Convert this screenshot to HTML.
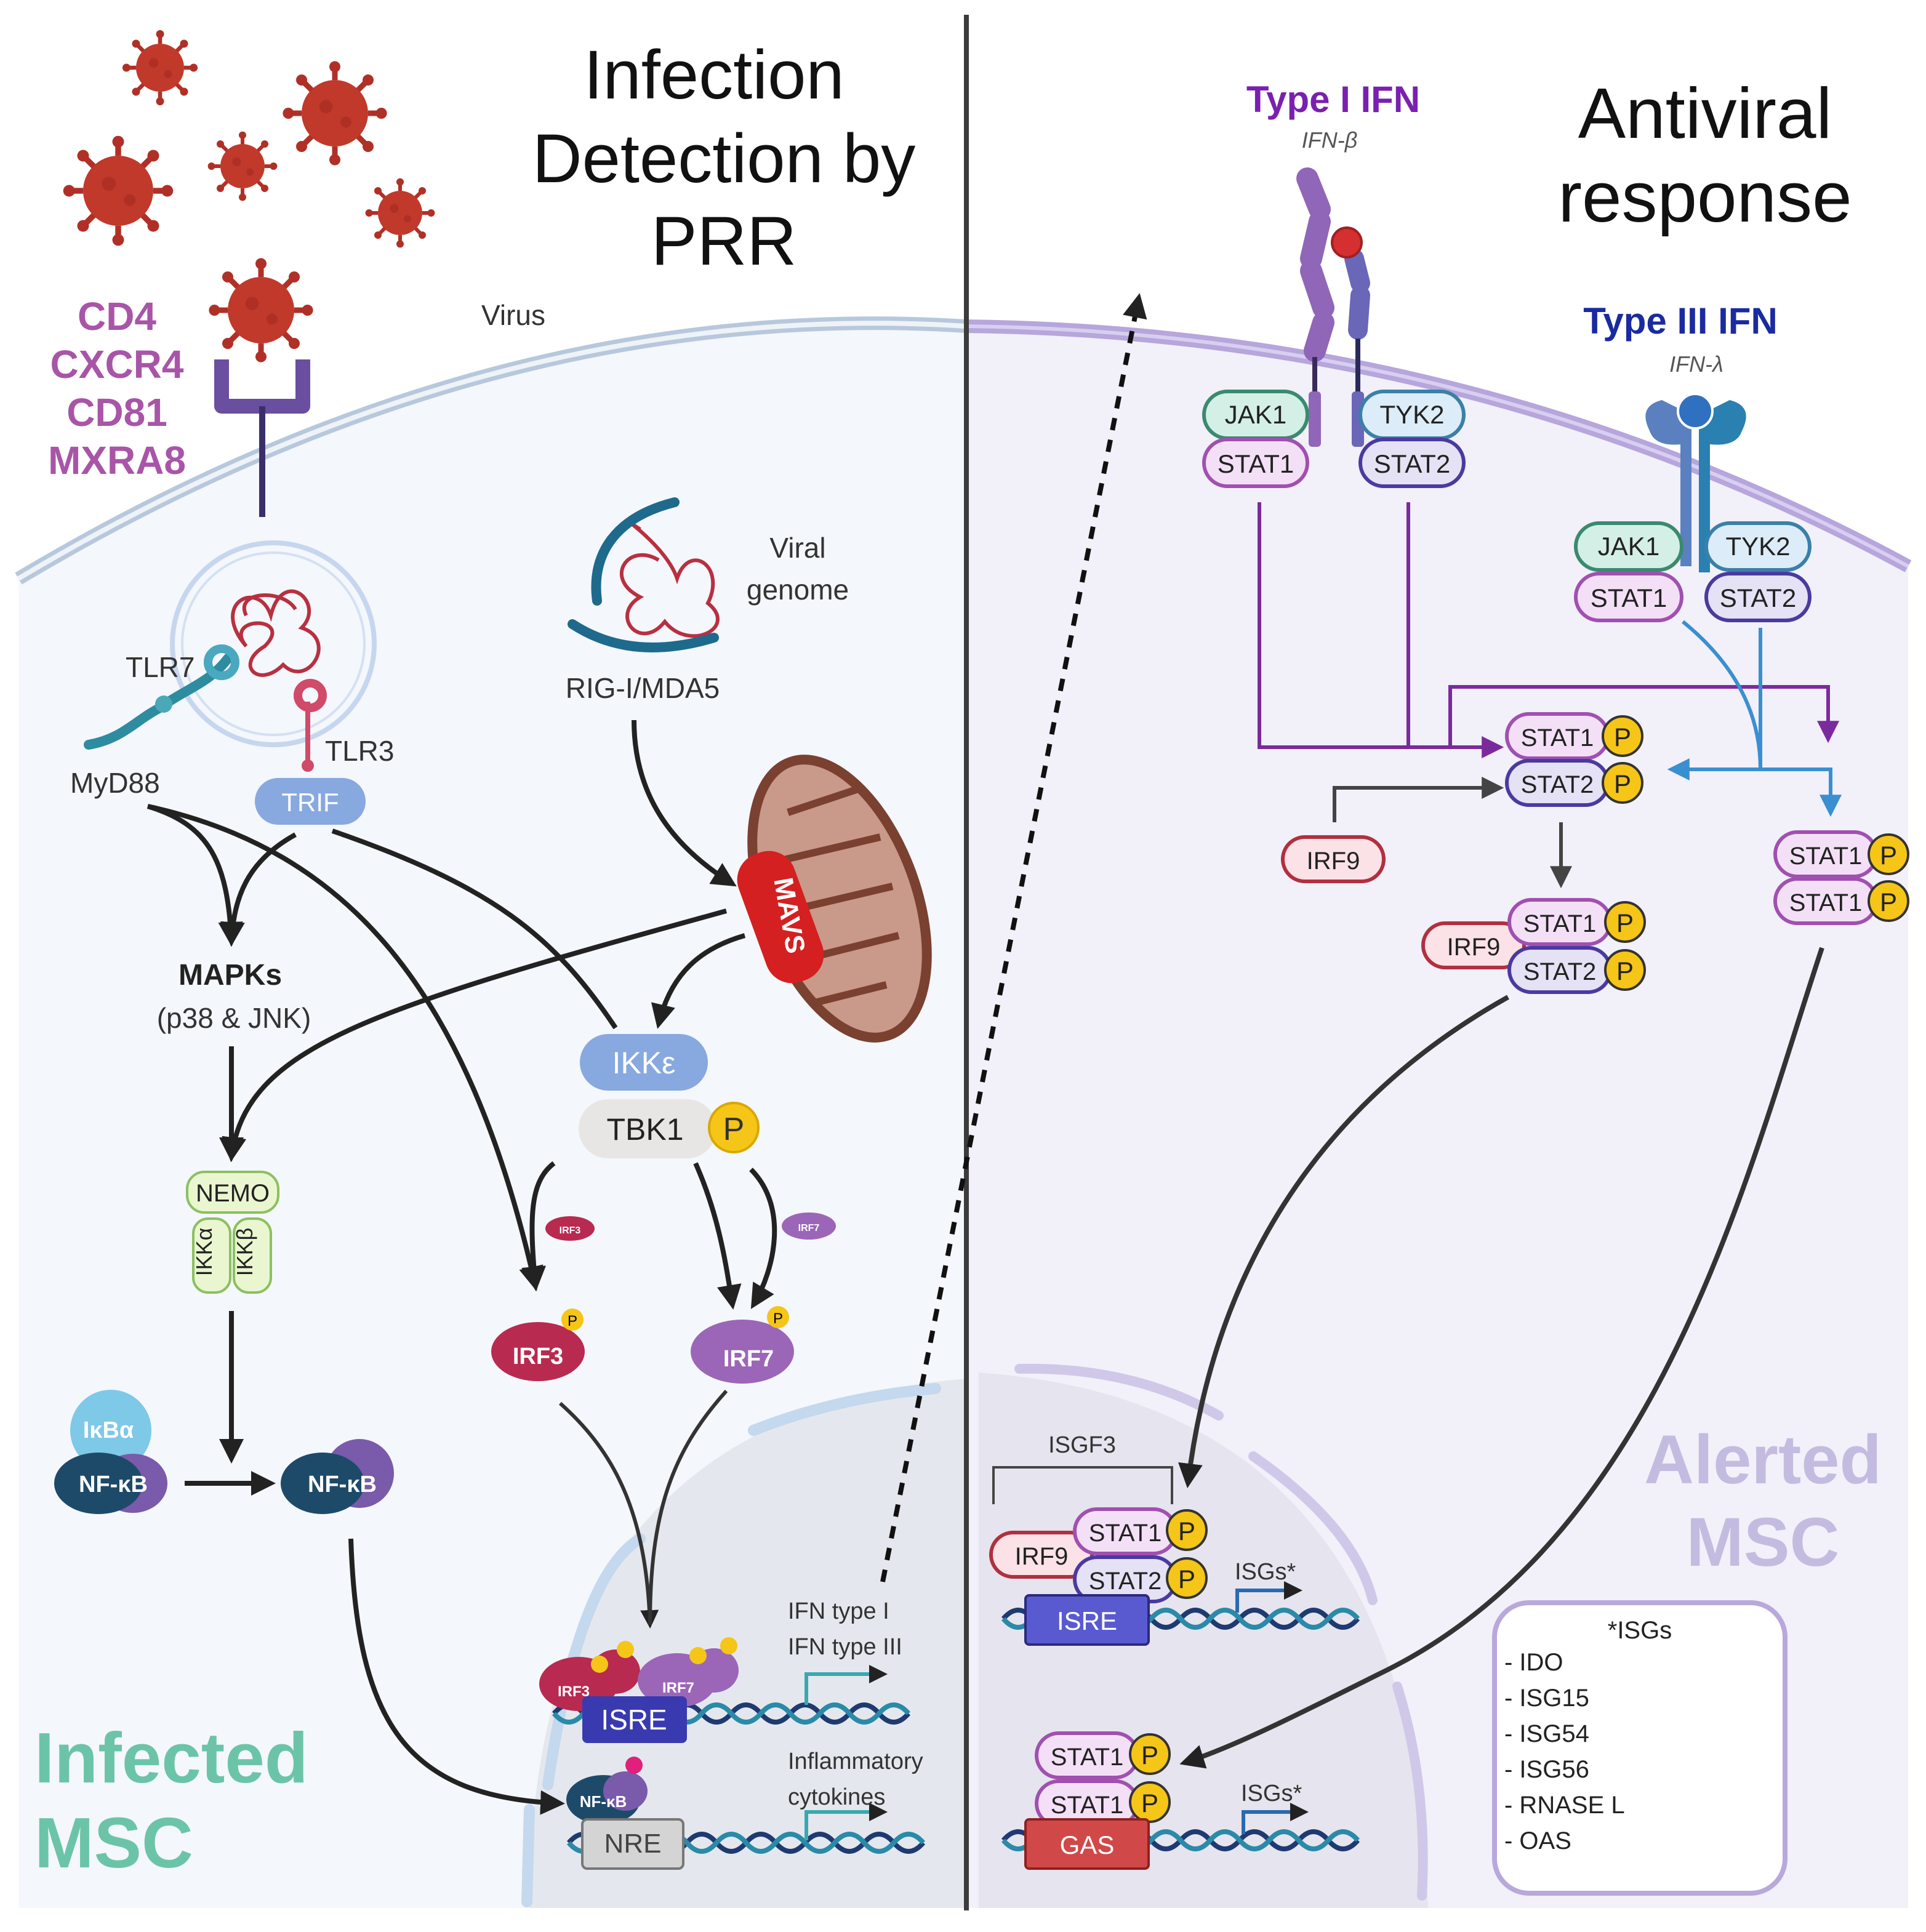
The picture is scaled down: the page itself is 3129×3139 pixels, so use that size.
<!DOCTYPE html>
<html><head><meta charset="utf-8"><style>
html,body{margin:0;padding:0;background:#fff}
svg{display:block}
text{font-family:"Liberation Sans",sans-serif}
</style></head><body>
<svg width="3129" height="3139" viewBox="0 0 1564.5 1569.5" xmlns="http://www.w3.org/2000/svg">
<defs>
<marker id="ab" viewBox="0 0 10 10" refX="8" refY="5" markerWidth="5" markerHeight="5" orient="auto"><path d="M0,0L10,5L0,10z" fill="#222"/></marker>
<marker id="ap" viewBox="0 0 10 10" refX="8" refY="5" markerWidth="6" markerHeight="6" orient="auto"><path d="M0,0L10,5L0,10z" fill="#7b2a9c"/></marker>
<marker id="au" viewBox="0 0 10 10" refX="8" refY="5" markerWidth="6" markerHeight="6" orient="auto"><path d="M0,0L10,5L0,10z" fill="#3a8fd0"/></marker>
<marker id="ag" viewBox="0 0 10 10" refX="8" refY="5" markerWidth="6" markerHeight="6" orient="auto"><path d="M0,0L10,5L0,10z" fill="#444"/></marker>
<g id="vir"><circle r="30" fill="#c0392b"/><g stroke="#b03027" stroke-width="5"><line x1="0" y1="-30" x2="0" y2="-40"/><line x1="0" y1="30" x2="0" y2="40"/><line x1="-30" y1="0" x2="-40" y2="0"/><line x1="30" y1="0" x2="40" y2="0"/><line x1="21" y1="21" x2="29" y2="29"/><line x1="-21" y1="21" x2="-29" y2="29"/><line x1="21" y1="-21" x2="29" y2="-29"/><line x1="-21" y1="-21" x2="-29" y2="-29"/></g><g fill="#b03027"><circle cx="0" cy="-42" r="5"/><circle cx="0" cy="42" r="5"/><circle cx="-42" cy="0" r="5"/><circle cx="42" cy="0" r="5"/><circle cx="30" cy="30" r="5"/><circle cx="-30" cy="30" r="5"/><circle cx="30" cy="-30" r="5"/><circle cx="-30" cy="-30" r="5"/></g><circle cx="-8" cy="-6" r="6" fill="#a52a20" opacity=".6"/><circle cx="10" cy="8" r="5" fill="#a52a20" opacity=".6"/></g>
</defs>
<!-- cells -->
<path d="M15,470 Q400,240 785,265 L785,1550 L15,1550 Z" fill="#f4f7fb"/>
<path d="M785,265 Q1200,270 1550,460 L1550,1550 L785,1550 Z" fill="#f2f0f9"/>
<path d="M15,470 Q400,240 785,265" fill="none" stroke="#b8c8dc" stroke-width="11"/>
<path d="M15,470 Q400,240 785,265" fill="none" stroke="#eef3f8" stroke-width="4"/>
<path d="M785,265 Q1200,270 1550,460" fill="none" stroke="#b6a6dc" stroke-width="11"/>
<path d="M785,265 Q1200,270 1550,460" fill="none" stroke="#d8cff0" stroke-width="3"/>
<!-- nuclei -->
<path d="M430,1550 Q430,1150 785,1120 L785,1550Z" fill="#e4e8ee"/>
<path d="M445,1450 Q470,1280 520,1250" fill="none" stroke="#c4d8ee" stroke-width="9" stroke-linecap="round"/>
<path d="M612,1162 Q680,1135 760,1128" fill="none" stroke="#c4d8ee" stroke-width="9" stroke-linecap="round"/>
<path d="M430,1470 L428,1545" fill="none" stroke="#c4d8ee" stroke-width="9" stroke-linecap="round"/>
<path d="M795,1115 Q1150,1140 1160,1550 L795,1550Z" fill="#e6e4ef"/>
<path d="M828,1112 Q920,1110 990,1150" fill="none" stroke="#d0c8e8" stroke-width="8" stroke-linecap="round"/>
<path d="M1018,1183 Q1100,1240 1115,1300" fill="none" stroke="#d0c8e8" stroke-width="8" stroke-linecap="round"/>
<path d="M1135,1370 Q1160,1450 1155,1540" fill="none" stroke="#d0c8e8" stroke-width="8" stroke-linecap="round"/>
<!-- divider -->
<line x1="785" y1="12" x2="785" y2="1552" stroke="#3c3c3c" stroke-width="4"/>
<!-- viruses -->
<use href="#vir" transform="translate(130,55) scale(.65)"/>
<use href="#vir" transform="translate(272,92) scale(.9)"/>
<use href="#vir" transform="translate(96,155) scale(.95)"/>
<use href="#vir" transform="translate(197,135) scale(.6)"/>
<use href="#vir" transform="translate(325,173) scale(.6)"/>
<use href="#vir" transform="translate(212,252) scale(.9)"/>
<!-- receptor -->
<path d="M180,292 L180,330 L246,330 L246,292" fill="none" stroke="#6a4ea0" stroke-width="12" stroke-linejoin="round"/>
<line x1="213" y1="330" x2="213" y2="420" stroke="#3b2f6a" stroke-width="5"/>
<text x="95" y="268" font-size="32" font-weight="bold" fill="#a855a8" text-anchor="middle">CD4</text>
<text x="95" y="307" font-size="32" font-weight="bold" fill="#a855a8" text-anchor="middle">CXCR4</text>
<text x="95" y="346" font-size="32" font-weight="bold" fill="#a855a8" text-anchor="middle">CD81</text>
<text x="95" y="385" font-size="32" font-weight="bold" fill="#a855a8" text-anchor="middle">MXRA8</text>
<text x="417" y="264" font-size="23" fill="#333" text-anchor="middle">Virus</text>
<text x="580" y="80" font-size="56" fill="#111" text-anchor="middle">Infection</text>
<text x="588" y="148" font-size="56" fill="#111" text-anchor="middle">Detection by</text>
<text x="588" y="215" font-size="56" fill="#111" text-anchor="middle">PRR</text>
<text x="1385" y="112" font-size="58" fill="#111" text-anchor="middle">Antiviral</text>
<text x="1385" y="180" font-size="58" fill="#111" text-anchor="middle">response</text>
<!-- endosome -->
<circle cx="222" cy="523" r="82" fill="none" stroke="#c6d6ee" stroke-width="4"/>
<circle cx="222" cy="523" r="74" fill="none" stroke="#d4e0f2" stroke-width="2"/>
<path d="M200,525 C170,490 210,470 220,500 C230,460 265,490 245,510 C275,520 250,560 230,540 C210,560 190,540 215,525 C240,500 180,500 200,525" fill="none" stroke="#b83040" stroke-width="3"/>
<path d="M200,500 C190,480 230,478 240,495" fill="none" stroke="#b83040" stroke-width="3"/>
<path d="M72,605 C100,600 110,585 130,575 C150,560 170,555 185,535" fill="none" stroke="#2e8ca0" stroke-width="8" stroke-linecap="round"/>
<circle cx="133" cy="572" r="7" fill="#4aa8b8"/><circle cx="180" cy="538" r="11" fill="none" stroke="#4aa8c0" stroke-width="7"/>
<path d="M250,620 L250,570" stroke="#d04a6a" stroke-width="4"/><circle cx="250" cy="622" r="5" fill="#d04a6a"/>
<circle cx="252" cy="565" r="10" fill="none" stroke="#d04a6a" stroke-width="7"/>
<text x="102" y="550" font-size="23" fill="#333">TLR7</text>
<text x="264" y="618" font-size="23" fill="#333">TLR3</text>
<text x="57" y="644" font-size="23" fill="#333">MyD88</text>
<rect x="207" y="632" width="90" height="38" rx="19" fill="#88a8e0"/>
<text x="252" y="659" font-size="21" fill="#fff" text-anchor="middle">TRIF</text>
<!-- viral genome -->
<path d="M520,430 C490,410 540,440 550,470 C560,440 590,460 575,490 C600,510 560,530 540,505 C520,530 495,500 520,485 C490,470 510,440 535,455" fill="none" stroke="#b83040" stroke-width="3"/>
<path d="M548,408 C500,420 480,450 485,488" fill="none" stroke="#1e6a8c" stroke-width="8" stroke-linecap="round"/>
<path d="M465,507 C500,530 540,530 580,518" fill="none" stroke="#1e6a8c" stroke-width="8" stroke-linecap="round"/>
<text x="648" y="453" font-size="23" fill="#333" text-anchor="middle">Viral</text>
<text x="648" y="487" font-size="23" fill="#333" text-anchor="middle">genome</text>
<text x="522" y="567" font-size="23" fill="#333" text-anchor="middle">RIG-I/MDA5</text>
<!-- mitochondrion -->
<ellipse cx="682" cy="730" rx="62" ry="118" transform="rotate(-20 682 730)" fill="#c9998a" stroke="#7a4030" stroke-width="8"/>
<path d="M640,660 L700,640 M630,700 L715,680 M640,740 L725,720 M650,780 L730,760 M660,815 L720,800" stroke="#7a4030" stroke-width="6"/>
<rect x="610" y="690" width="48" height="110" rx="22" transform="rotate(-20 634 745)" fill="#d42020"/>
<text x="634" y="745" font-size="22" fill="#fff" font-weight="bold" text-anchor="middle" transform="rotate(80 634 745)">MAVS</text>
<!-- arrows left -->
<g fill="none" stroke="#222" stroke-width="4" marker-end="url(#ab)">
<path d="M515,585 C515,650 550,690 595,718"/>
<path d="M605,760 C570,770 545,790 535,832"/>
<path d="M120,655 C170,670 185,700 188,765"/>
<path d="M240,678 C200,700 190,730 188,765"/>
<path d="M120,655 C280,690 380,800 435,1045"/>
<path d="M188,850 L188,940"/>
<path d="M590,740 C300,820 200,850 188,940"/>
<path d="M188,1065 L188,1185"/>
<path d="M150,1205 L220,1205"/>
<path d="M450,945 C430,960 430,990 435,1045"/>
<path d="M565,945 C585,990 590,1030 595,1060"/>
<path d="M610,950 C640,980 630,1030 612,1060"/>
<path d="M285,1250 C290,1400 330,1460 455,1465"/>
</g>
<path d="M270,675 C400,720 450,760 500,835" fill="none" stroke="#222" stroke-width="4"/>
<path d="M455,1140 C500,1180 525,1230 528,1320" fill="none" stroke="#333" stroke-width="3" marker-end="url(#ab)"/>
<path d="M590,1130 C545,1180 528,1230 528,1320" fill="none" stroke="#333" stroke-width="3"/>
<line x1="717" y1="1285" x2="925" y2="242" stroke="#111" stroke-width="4" stroke-dasharray="10,8" marker-end="url(#ab)"/>
<text x="187" y="800" font-size="24" font-weight="bold" fill="#222" text-anchor="middle">MAPKs</text>
<text x="190" y="835" font-size="23" fill="#333" text-anchor="middle">(p38 &amp; JNK)</text>
<!-- IKK -->
<rect x="471" y="840" width="104" height="46" rx="23" fill="#88a8e0"/>
<text x="523" y="872" font-size="25" fill="#fff" text-anchor="middle">IKKε</text>
<rect x="470" y="893" width="112" height="48" rx="24" fill="#e8e6e4"/>
<text x="524" y="926" font-size="25" fill="#222" text-anchor="middle">TBK1</text>
<circle cx="596" cy="916" r="20" fill="#f5c518" stroke="#d8a800" stroke-width="2"/>
<text x="596" y="926" font-size="26" fill="#333" text-anchor="middle">P</text>
<!-- NEMO -->
<rect x="157" y="990" width="30" height="60" rx="12" fill="#eaf6d0" stroke="#8cc060" stroke-width="2"/>
<rect x="190" y="990" width="30" height="60" rx="12" fill="#eaf6d0" stroke="#8cc060" stroke-width="2"/>
<rect x="152" y="952" width="74" height="33" rx="14" fill="#eaf6d0" stroke="#8cc060" stroke-width="2"/>
<text x="189" y="976" font-size="20" fill="#222" text-anchor="middle">NEMO</text>
<text x="172" y="1017" font-size="18" fill="#222" text-anchor="middle" transform="rotate(-90 172 1017)">IKKα</text>
<text x="205" y="1017" font-size="18" fill="#222" text-anchor="middle" transform="rotate(-90 205 1017)">IKKβ</text>
<!-- IRFs -->
<ellipse cx="463" cy="998" rx="20" ry="10" fill="#b82a50"/><text x="463" y="1002" font-size="8" fill="#fff" text-anchor="middle" font-weight="bold">IRF3</text>
<ellipse cx="657" cy="996" rx="22" ry="11" fill="#9b66b8"/><text x="657" y="1000" font-size="8" fill="#fff" text-anchor="middle" font-weight="bold">IRF7</text>
<ellipse cx="437" cy="1098" rx="38" ry="24" fill="#b82a50"/><text x="437" y="1108" font-size="19" fill="#fff" text-anchor="middle" font-weight="bold">IRF3</text>
<circle cx="465" cy="1072" r="9" fill="#f5c518"/><text x="465" y="1077" font-size="12" text-anchor="middle">P</text>
<ellipse cx="603" cy="1098" rx="42" ry="26" fill="#9b66b8"/><text x="608" y="1110" font-size="19" fill="#fff" text-anchor="middle" font-weight="bold">IRF7</text>
<circle cx="632" cy="1070" r="9" fill="#f5c518"/><text x="632" y="1075" font-size="12" text-anchor="middle">P</text>
<!-- NFkB -->
<ellipse cx="90" cy="1162" rx="33" ry="33" fill="#7ec8e8"/><text x="88" y="1168" font-size="19" fill="#fff" font-weight="bold" text-anchor="middle">IκBα</text>
<ellipse cx="108" cy="1205" rx="28" ry="24" fill="#7a5aaa"/>
<ellipse cx="80" cy="1205" rx="36" ry="25" fill="#1e4a6a"/><text x="92" y="1212" font-size="19" fill="#fff" font-weight="bold" text-anchor="middle">NF-κB</text>
<ellipse cx="292" cy="1197" rx="28" ry="28" fill="#7a5aaa"/>
<ellipse cx="262" cy="1205" rx="34" ry="25" fill="#1e4a6a"/><text x="278" y="1212" font-size="19" fill="#fff" font-weight="bold" text-anchor="middle">NF-κB</text>
<!-- left DNA -->
<g fill="none" stroke-width="4">
<path d="M450,1392 q12,-14 24,0 t24,0 t24,0 t24,0 t24,0 t24,0 t24,0 t24,0 t24,0 t24,0 t24,0 t24,0" stroke="#1e3a70"/>
<path d="M450,1392 q12,14 24,0 t24,0 t24,0 t24,0 t24,0 t24,0 t24,0 t24,0 t24,0 t24,0 t24,0 t24,0" stroke="#2a8aa8"/>
<path d="M462,1497 q12,-14 24,0 t24,0 t24,0 t24,0 t24,0 t24,0 t24,0 t24,0 t24,0 t24,0 t24,0 t24,0" stroke="#1e3a70"/>
<path d="M462,1497 q12,14 24,0 t24,0 t24,0 t24,0 t24,0 t24,0 t24,0 t24,0 t24,0 t24,0 t24,0 t24,0" stroke="#2a8aa8"/>
<path d="M655,1385 L655,1360 L718,1360" stroke="#3aa8b0" stroke-width="3" marker-end="url(#ab)"/>
<path d="M655,1495 L655,1472 L718,1472" stroke="#3aa8b0" stroke-width="3" marker-end="url(#ab)"/>
</g>
<ellipse cx="470" cy="1368" rx="32" ry="22" fill="#b82a50"/><text x="466" y="1378" font-size="12" fill="#fff" font-weight="bold" text-anchor="middle">IRF3</text>
<ellipse cx="500" cy="1358" rx="20" ry="18" fill="#b82a50"/>
<ellipse cx="550" cy="1365" rx="32" ry="22" fill="#9b66b8"/><text x="551" y="1375" font-size="12" fill="#fff" font-weight="bold" text-anchor="middle">IRF7</text>
<ellipse cx="580" cy="1357" rx="20" ry="18" fill="#9b66b8"/>
<circle cx="508" cy="1340" r="7" fill="#f5c518"/><circle cx="567" cy="1345" r="7" fill="#f5c518"/><circle cx="592" cy="1337" r="7" fill="#f5c518"/><circle cx="487" cy="1352" r="7" fill="#f5c518"/>
<rect x="473" y="1378" width="85" height="38" rx="4" fill="#3a3ab0"/>
<text x="515" y="1405" font-size="23" fill="#fff" text-anchor="middle">ISRE</text>
<ellipse cx="490" cy="1462" rx="30" ry="20" fill="#1e4a6a"/><ellipse cx="508" cy="1455" rx="18" ry="16" fill="#7a5aaa"/>
<text x="490" y="1468" font-size="13" fill="#fff" font-weight="bold" text-anchor="middle">NF-κB</text>
<circle cx="515" cy="1434" r="7" fill="#e0207a"/>
<rect x="473" y="1478" width="82" height="40" rx="4" fill="#d4d4d4" stroke="#777" stroke-width="2"/>
<text x="514" y="1505" font-size="22" fill="#444" text-anchor="middle">NRE</text>
<text x="640" y="1315" font-size="19" fill="#333">IFN type I</text>
<text x="640" y="1344" font-size="19" fill="#333">IFN type III</text>
<text x="640" y="1437" font-size="19" fill="#333">Inflammatory</text>
<text x="640" y="1466" font-size="19" fill="#333">cytokines</text>
<text x="28" y="1448" font-size="58" font-weight="bold" fill="#6cc4a8">Infected</text>
<text x="28" y="1517" font-size="58" font-weight="bold" fill="#6cc4a8">MSC</text>
<!-- right side -->
<text x="1083" y="91" font-size="30" font-weight="bold" fill="#7a20b0" text-anchor="middle">Type I IFN</text>
<text x="1080" y="120" font-size="18" font-style="italic" fill="#555" text-anchor="middle">IFN-β</text>
<text x="1365" y="271" font-size="30" font-weight="bold" fill="#1a2aa0" text-anchor="middle">Type III IFN</text>
<text x="1378" y="302" font-size="18" font-style="italic" fill="#555" text-anchor="middle">IFN-λ</text>
<!-- type I receptor -->
<g stroke-linecap="round">
<line x1="1062" y1="145" x2="1072" y2="170" stroke="#9066b8" stroke-width="18"/>
<line x1="1072" y1="180" x2="1065" y2="210" stroke="#9066b8" stroke-width="18"/>
<line x1="1065" y1="220" x2="1075" y2="250" stroke="#9066b8" stroke-width="18"/>
<line x1="1075" y1="262" x2="1068" y2="285" stroke="#9066b8" stroke-width="18"/>
<line x1="1100" y1="210" x2="1105" y2="230" stroke="#6a66b8" stroke-width="16"/>
<line x1="1105" y1="240" x2="1103" y2="268" stroke="#6a66b8" stroke-width="16"/>
</g>
<circle cx="1094" cy="197" r="12" fill="#d43030" stroke="#a02020" stroke-width="2"/>
<line x1="1068" y1="290" x2="1068" y2="340" stroke="#3a2a5a" stroke-width="4"/>
<line x1="1103" y1="275" x2="1103" y2="340" stroke="#2a2a5a" stroke-width="4"/>
<rect x="1063" y="318" width="10" height="45" rx="3" fill="#9066b8"/>
<rect x="1098" y="318" width="10" height="45" rx="3" fill="#6a66b8"/>
<!-- type III receptor -->
<path d="M1340,350 Q1330,330 1350,325 L1370,335 L1372,360 Q1345,365 1340,350Z" fill="#5a80c0"/>
<path d="M1415,350 Q1425,330 1405,325 L1385,335 L1383,360 Q1410,365 1415,350Z" fill="#2a80b0"/>
<rect x="1365" y="340" width="9" height="120" fill="#5a80c0"/>
<rect x="1380" y="340" width="9" height="125" fill="#2a80b0"/>
<circle cx="1377" cy="334" r="14" fill="#3070c0" stroke="#fff" stroke-width="2"/>
<!-- pills -->
<g font-size="21" text-anchor="middle" fill="#222">
<rect x="978" y="318" width="84" height="38" rx="19" fill="#d4f0e6" stroke="#3a8a70" stroke-width="3"/><text x="1020" y="344">JAK1</text>
<rect x="978" y="357" width="84" height="38" rx="19" fill="#f4e0f6" stroke="#a050b0" stroke-width="3"/><text x="1020" y="384">STAT1</text>
<rect x="1105" y="318" width="84" height="38" rx="19" fill="#dcecf8" stroke="#3a80a8" stroke-width="3"/><text x="1147" y="344">TYK2</text>
<rect x="1105" y="357" width="84" height="38" rx="19" fill="#e4e2f4" stroke="#4a3aa0" stroke-width="3"/><text x="1147" y="384">STAT2</text>
<rect x="1280" y="425" width="86" height="38" rx="19" fill="#d4f0e6" stroke="#3a8a70" stroke-width="3"/><text x="1323" y="451">JAK1</text>
<rect x="1280" y="466" width="86" height="38" rx="19" fill="#f4e0f6" stroke="#a050b0" stroke-width="3"/><text x="1323" y="493">STAT1</text>
<rect x="1386" y="425" width="84" height="38" rx="19" fill="#dcecf8" stroke="#3a80a8" stroke-width="3"/><text x="1428" y="451">TYK2</text>
<rect x="1386" y="466" width="84" height="38" rx="19" fill="#e4e2f4" stroke="#4a3aa0" stroke-width="3"/><text x="1428" y="493">STAT2</text>
</g>
<!-- connectors -->
<g fill="none" stroke-width="3">
<path d="M1023,408 L1023,607 L1218,607" stroke="#7b2a9c" marker-end="url(#ap)"/>
<path d="M1144,408 L1144,607" stroke="#7b2a9c"/>
<path d="M1178,607 L1178,558 L1485,558 L1485,600" stroke="#7b2a9c" marker-end="url(#ap)"/>
<path d="M1367,505 C1410,540 1430,580 1430,625" stroke="#3a8fd0"/>
<path d="M1430,510 L1430,625" stroke="#3a8fd0"/>
<path d="M1430,625 L1358,625" stroke="#3a8fd0" marker-end="url(#au)"/>
<path d="M1430,625 L1487,625 L1487,660" stroke="#3a8fd0" marker-end="url(#au)"/>
<path d="M1084,668 L1084,640 L1218,640" stroke="#444" marker-end="url(#ag)"/>
<path d="M1268,668 L1268,718" stroke="#444" marker-end="url(#ag)"/>
</g>
<g font-size="20" text-anchor="middle" fill="#222">
<rect x="1224" y="580" width="82" height="36" rx="18" fill="#f4e0f6" stroke="#a050b0" stroke-width="3"/><text x="1265" y="606">STAT1</text>
<rect x="1224" y="618" width="82" height="36" rx="18" fill="#e4e2f4" stroke="#4a3aa0" stroke-width="3"/><text x="1265" y="644">STAT2</text>
<rect x="1042" y="680" width="82" height="36" rx="18" fill="#fbe2e6" stroke="#b03040" stroke-width="3"/><text x="1083" y="706">IRF9</text>
<rect x="1156" y="750" width="82" height="36" rx="18" fill="#fbe2e6" stroke="#b03040" stroke-width="3"/><text x="1197" y="776">IRF9</text>
<rect x="1226" y="731" width="82" height="36" rx="18" fill="#f4e0f6" stroke="#a050b0" stroke-width="3"/><text x="1267" y="757">STAT1</text>
<rect x="1226" y="770" width="82" height="36" rx="18" fill="#e4e2f4" stroke="#4a3aa0" stroke-width="3"/><text x="1267" y="796">STAT2</text>
<rect x="1442" y="676" width="82" height="36" rx="18" fill="#f4e0f6" stroke="#a050b0" stroke-width="3"/><text x="1483" y="702">STAT1</text>
<rect x="1442" y="714" width="82" height="36" rx="18" fill="#f4e0f6" stroke="#a050b0" stroke-width="3"/><text x="1483" y="740">STAT1</text>
<rect x="805" y="1245" width="82" height="36" rx="18" fill="#fbe2e6" stroke="#b03040" stroke-width="3"/><text x="846" y="1271">IRF9</text>
<rect x="873" y="1226" width="82" height="36" rx="18" fill="#f4e0f6" stroke="#a050b0" stroke-width="3"/><text x="914" y="1252">STAT1</text>
<rect x="873" y="1265" width="82" height="36" rx="18" fill="#e4e2f4" stroke="#4a3aa0" stroke-width="3"/><text x="914" y="1291">STAT2</text>
<rect x="842" y="1408" width="82" height="36" rx="18" fill="#f4e0f6" stroke="#a050b0" stroke-width="3"/><text x="883" y="1434">STAT1</text>
<rect x="842" y="1447" width="82" height="36" rx="18" fill="#f4e0f6" stroke="#a050b0" stroke-width="3"/><text x="883" y="1473">STAT1</text>
</g>
<g font-size="21" text-anchor="middle" fill="#222">
<circle cx="1318" cy="598" r="16" fill="#f5c518" stroke="#333" stroke-width="2"/><text x="1318" y="606">P</text>
<circle cx="1318" cy="636" r="16" fill="#f5c518" stroke="#333" stroke-width="2"/><text x="1318" y="644">P</text>
<circle cx="1320" cy="749" r="16" fill="#f5c518" stroke="#333" stroke-width="2"/><text x="1320" y="757">P</text>
<circle cx="1320" cy="788" r="16" fill="#f5c518" stroke="#333" stroke-width="2"/><text x="1320" y="796">P</text>
<circle cx="1534" cy="694" r="16" fill="#f5c518" stroke="#333" stroke-width="2"/><text x="1534" y="702">P</text>
<circle cx="1534" cy="732" r="16" fill="#f5c518" stroke="#333" stroke-width="2"/><text x="1534" y="740">P</text>
<circle cx="964" cy="1243" r="16" fill="#f5c518" stroke="#333" stroke-width="2"/><text x="964" y="1251">P</text>
<circle cx="964" cy="1282" r="16" fill="#f5c518" stroke="#333" stroke-width="2"/><text x="964" y="1290">P</text>
<circle cx="934" cy="1425" r="16" fill="#f5c518" stroke="#333" stroke-width="2"/><text x="934" y="1433">P</text>
<circle cx="934" cy="1464" r="16" fill="#f5c518" stroke="#333" stroke-width="2"/><text x="934" y="1472">P</text>
</g>
<!-- long arrows right -->
<path d="M1225,810 C1100,880 990,1000 965,1205" fill="none" stroke="#333" stroke-width="4" marker-end="url(#ab)"/>
<path d="M1480,770 C1420,950 1350,1250 1120,1360 C1050,1395 1000,1420 962,1432" fill="none" stroke="#333" stroke-width="4" marker-end="url(#ab)"/>
<!-- ISGF3 bracket -->
<path d="M807,1222 L807,1192 L952,1192 L952,1222" fill="none" stroke="#444" stroke-width="2"/>
<text x="879" y="1180" font-size="19" fill="#333" text-anchor="middle">ISGF3</text>
<!-- right DNA -->
<g fill="none" stroke-width="4">
<path d="M815,1315 q12,-14 24,0 t24,0 t24,0 t24,0 t24,0 t24,0 t24,0 t24,0 t24,0 t24,0 t24,0 t24,0" stroke="#1e3a70"/>
<path d="M815,1315 q12,14 24,0 t24,0 t24,0 t24,0 t24,0 t24,0 t24,0 t24,0 t24,0 t24,0 t24,0 t24,0" stroke="#2a8aa8"/>
<path d="M815,1495 q12,-14 24,0 t24,0 t24,0 t24,0 t24,0 t24,0 t24,0 t24,0 t24,0 t24,0 t24,0 t24,0" stroke="#1e3a70"/>
<path d="M815,1495 q12,14 24,0 t24,0 t24,0 t24,0 t24,0 t24,0 t24,0 t24,0 t24,0 t24,0 t24,0 t24,0" stroke="#2a8aa8"/>
<path d="M1005,1310 L1005,1292 L1055,1292" stroke="#2a6ab0" stroke-width="3" marker-end="url(#ab)"/>
<path d="M1010,1490 L1010,1472 L1060,1472" stroke="#2a6ab0" stroke-width="3" marker-end="url(#ab)"/>
</g>
<rect x="833" y="1296" width="100" height="40" rx="3" fill="#5a5ad0" stroke="#2a2a80" stroke-width="2"/>
<text x="883" y="1324" font-size="21" fill="#fff" text-anchor="middle">ISRE</text>
<rect x="833" y="1478" width="100" height="40" rx="3" fill="#d04848" stroke="#902020" stroke-width="2"/>
<text x="883" y="1506" font-size="21" fill="#fff" text-anchor="middle">GAS</text>
<text x="1003" y="1283" font-size="19" fill="#333">ISGs*</text>
<text x="1008" y="1463" font-size="19" fill="#333">ISGs*</text>
<text x="1432" y="1205" font-size="56" font-weight="bold" fill="#c4bce0" text-anchor="middle">Alerted</text>
<text x="1432" y="1272" font-size="56" font-weight="bold" fill="#c4bce0" text-anchor="middle">MSC</text>
<rect x="1214" y="1302" width="236" height="236" rx="28" fill="#fff" stroke="#b8a8dc" stroke-width="4"/>
<g font-size="20" fill="#222">
<text x="1332" y="1331" text-anchor="middle">*ISGs</text>
<text x="1222" y="1357">- IDO</text>
<text x="1222" y="1386">- ISG15</text>
<text x="1222" y="1415">- ISG54</text>
<text x="1222" y="1444">- ISG56</text>
<text x="1222" y="1473">- RNASE L</text>
<text x="1222" y="1502">- OAS</text>
</g>
</svg>
</body></html>
